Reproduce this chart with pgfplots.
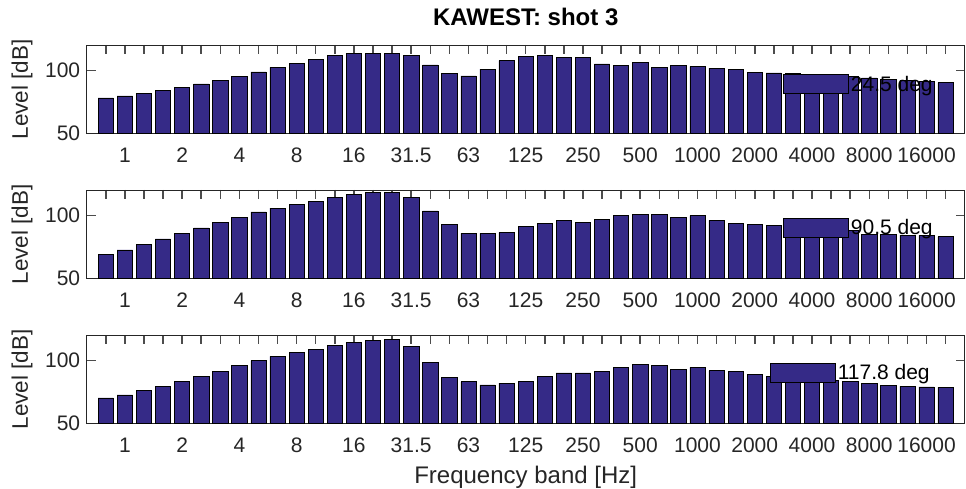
\documentclass[border=0pt]{standalone}
\usepackage{fontspec}
\setmainfont{Liberation Sans}
\usepackage{pgfplots}
\usepackage{pgfplotstable}
\pgfplotsset{compat=1.18}

\definecolor{barblue}{RGB}{53,42,135}
\definecolor{axgray}{RGB}{38,38,38}

% third-octave band index, levels for the three angles
\pgfplotstableread{
idx  a      b      c
1    78.1   69.0   70.3
2    79.7   72.7   72.7
3    81.8   76.9   75.9
4    83.9   81.4   79.3
5    86.5   85.9   83.3
6    89.3   90.1   87.2
7    92.2   94.6   91.5
8    95.3   98.6   95.7
9    98.7   102.6  99.7
10   102.3  105.7  103.1
11   105.5  108.4  106.0
12   108.6  111.0  108.6
13   111.5  114.4  111.5
14   113.3  116.8  113.9
15   113.5  118.4  115.8
16   113.5  117.9  116.3
17   112.0  114.4  111.3
18   104.2  103.4  98.3
19   97.7   92.5   86.2
20   95.6   85.7   83.0
21   101.0  85.7   80.6
22   107.6  86.5   82.0
23   110.9  91.2   83.3
24   112.0  93.6   87.0
25   110.4  96.2   90.1
26   109.9  94.4   90.1
27   105.0  96.8   90.9
28   103.6  99.7   94.1
29   106.2  101.0  96.8
30   102.3  100.7  95.7
31   103.6  98.1   92.5
32   103.1  99.7   94.4
33   101.8  96.0   91.7
34   101.0  93.6   90.9
35   98.4   93.1   89.1
36   97.9   92.3   87.5
37   97.4   90.4   86.5
38   96.5   89.6   85.5
39   95.8   88.8   84.3
40   95.0   87.8   83.0
41   94.0   85.1   81.7
42   93.0   84.9   80.3
43   92.3   84.3   79.5
44   91.5   84.1   79.0
45   90.3   83.0   78.5
}\levels

\pgfplotsset{
  kaw/.style={
    scale only axis,
    width=878pt, height=88.5pt,
    xmin=0, xmax=46, ymin=50, ymax=120,
    ytick={50,100},
    xtick={1,...,45},
    xticklabels={{},1,{},{},2,{},{},4,{},{},8,{},{},16,{},{},31.5,{},{},63,{},{},125,{},{},250,{},{},500,{},{},1000,{},{},2000,{},{},4000,{},{},8000,{},{},16000,{}},
    tick align=inside,
    xtick pos=both, ytick pos=both,
    major tick length=9pt,
    axis line style={draw=axgray, line width=0.8pt},
    major tick style={draw=black!70, line width=1.5pt},
    /pgf/number format/assume math mode=true,
    tick label style={font=\fontsize{21}{24}\selectfont, text=axgray},
    xticklabel style={anchor=base, yshift=-28.5pt},
    yticklabel style={anchor=east, xshift=-3pt},
    every axis y label/.style={at={(axis description cs:-0.0735,0.5)}, rotate=90, anchor=center,
      font=\fontsize{22.5}{26}\selectfont, text=axgray},
    ylabel={Level [dB]},
    legend style={draw=none, fill=none, inner sep=0pt, anchor=west,
      font=\fontsize{21}{24}\selectfont, text=black},
    legend image code/.code={\draw[fill=barblue, draw=black, line width=0.8pt] (0pt,-9.5pt) rectangle (65pt,9.5pt);},
  },
  kawbar/.style={ybar, bar width=0.8, fill=barblue, draw=black, line width=0.6pt},
}

\begin{document}
\begin{tikzpicture}
\begin{axis}[kaw, at={(0pt,0pt)}, anchor=north west,
  title={KAWEST: shot 3},
  title style={at={(axis description cs:0.5,1)}, anchor=base, yshift=13pt,
    font=\bfseries\fontsize{24}{27}\selectfont},
  legend style={at={(axis description cs:0.793,0.556)}}]
\addplot[kawbar] table[x=idx, y=a] {\levels};
\addlegendentry{24.5 deg}
\end{axis}

\begin{axis}[kaw, at={(0pt,-145pt)}, anchor=north west,
  legend style={at={(axis description cs:0.793,0.57)}}]
\addplot[kawbar] table[x=idx, y=b] {\levels};
\addlegendentry{90.5 deg}
\end{axis}

\begin{axis}[kaw, at={(0pt,-290pt)}, anchor=north west,
  xlabel={Frequency band [Hz]},
  every axis x label/.style={at={(axis description cs:0.5,-0.608)}, anchor=center,
    font=\fontsize{24}{27}\selectfont, text=axgray},
  legend style={at={(axis description cs:0.778,0.57)}}]
\addplot[kawbar] table[x=idx, y=c] {\levels};
\addlegendentry{117.8 deg}
\end{axis}

\pgfresetboundingbox
\path[use as bounding box] (-86.7pt,45pt) rectangle (879.3pt,-444pt);
\end{tikzpicture}
\end{document}
